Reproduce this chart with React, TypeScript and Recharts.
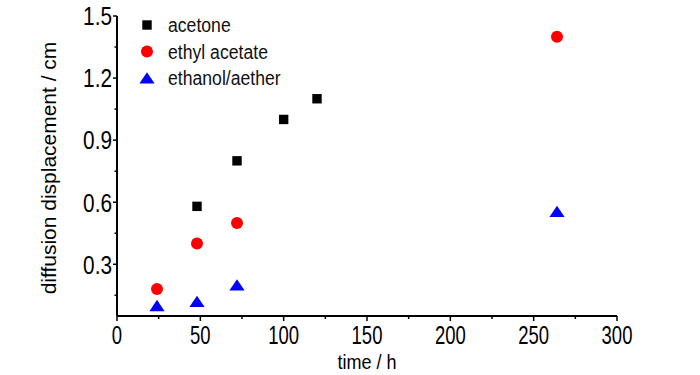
import React from "react";
import { ScatterChart, Scatter, XAxis, YAxis, Legend } from "recharts";

// time (h) and displacement (cm) per solvent
const acetoneTime = [48, 72, 100, 120];
const acetoneDisp = [0.58, 0.8, 1.0, 1.1];
const ethylTime = [24, 48, 72, 264];
const ethylDisp = [0.18, 0.4, 0.5, 1.4];
const etherTime = [24, 48, 72, 264];
const etherDisp = [0.1, 0.12, 0.2, 0.555];

const seriesNames = ["acetone", "ethyl acetate", "ethanol/aether"];

const xTicks = [0, 25, 50, 75, 100, 125, 150, 175, 200, 225, 250, 275, 300];
const yTicks = [0.15, 0.3, 0.45, 0.6, 0.75, 0.9, 1.05, 1.2, 1.35, 1.5];

const FONT = '"Liberation Sans", Arial, sans-serif';

const toPoints = (xs: number[], ys: number[]) =>
  xs.map((x, i) => ({ time: x, disp: ys[i] }));

const acetone = toPoints(acetoneTime, acetoneDisp);
const ethyl = toPoints(ethylTime, ethylDisp);
const ether = toPoints(etherTime, etherDisp);

const Square = ({ cx, cy }: any) => (
  <rect x={cx - 4.7} y={cy - 4.7} width={9.4} height={9.4} fill="#000" />
);
const Dot = ({ cx, cy }: any) => <circle cx={cx} cy={cy} r={6} fill="#ff0000" />;
const Tri = ({ cx, cy }: any) => (
  <polygon
    points={`${cx},${cy - 5.8} ${cx + 7.6},${cy + 5.5} ${cx - 7.6},${cy + 5.5}`}
    fill="#0000ff"
  />
);

const XTick = ({ x, y, payload }: any) => {
  const v = payload.value;
  const major = v % 50 === 0;
  return (
    <g>
      <line x1={x} x2={x} y1={y} y2={y + (major ? 5 : 3)} stroke="#000" strokeWidth={1.5} />
      {major && (
        <text
          transform={`translate(${x} ${y + 28}) scale(0.74 1)`}
          textAnchor="middle"
          fontSize={25}
          fontFamily={FONT}
          fill="#000"
        >
          {v}
        </text>
      )}
    </g>
  );
};

const YTick = ({ x, y, payload }: any) => {
  const v = payload.value;
  const major = Math.round(v * 100) % 30 === 0;
  return (
    <g>
      <line x1={x - (major ? 4 : 2.5)} x2={x} y1={y} y2={y} stroke="#000" strokeWidth={1.5} />
      {major && (
        <text
          transform={`translate(${x - 5} ${y + 9.3}) scale(0.8 1)`}
          textAnchor="end"
          fontSize={26}
          fontFamily={FONT}
          fill="#000"
        >
          {v.toFixed(1)}
        </text>
      )}
    </g>
  );
};

const legendShapes = [Square, Dot, Tri];

const LegendBox = () => (
  <svg width={240} height={90}>
    {seriesNames.map((name, i) => {
      const Shape = legendShapes[i];
      const cy = 13 + i * 26.5;
      return (
        <g key={name}>
          <Shape cx={17} cy={cy} />
          <text
            transform={`translate(38 ${cy + 7.3}) scale(0.84 1)`}
            fontSize={21}
            fontFamily={FONT}
            fill="#111"
          >
            {name}
          </text>
        </g>
      );
    })}
  </svg>
);

export default function App() {
  return (
    <div style={{ position: "absolute", left: 0, top: 0, background: "#fff" }}>
      <ScatterChart
        width={700}
        height={375}
        margin={{ top: 16, right: 83, bottom: 0, left: 0 }}
      >
        <XAxis
          type="number"
          dataKey="time"
          domain={[0, 300]}
          ticks={xTicks}
          interval={0}
          height={59}
          tickSize={0}
          tickMargin={0}
          tick={<XTick />}
          axisLine={{ stroke: "#000", strokeWidth: 2 }}
          label={{
            content: ({ viewBox }: any) => (
              <text
                transform={`translate(${viewBox.x + viewBox.width / 2} ${viewBox.y + 53}) scale(0.86 1)`}
                textAnchor="middle"
                fontSize={21}
                fontFamily={FONT}
                fill="#000"
              >
                time / h
              </text>
            ),
          }}
        />
        <YAxis
          type="number"
          dataKey="disp"
          domain={[0.05, 1.5]}
          ticks={yTicks}
          interval={0}
          width={117}
          tickSize={0}
          tickMargin={0}
          tick={<YTick />}
          axisLine={{ stroke: "#000", strokeWidth: 2 }}
          label={{
            content: ({ viewBox }: any) => (
              <text
                transform={`translate(49 ${viewBox.y + viewBox.height / 2 + 2}) scale(0.92 1) rotate(-90)`}
                textAnchor="middle"
                dominantBaseline="central"
                fontSize={21}
                fontFamily={FONT}
                fill="#000"
              >
                diffusion displacement / cm
              </text>
            ),
          }}
        />
        <Legend
          layout="vertical"
          align="center"
          verticalAlign="middle"
          content={() => <LegendBox />}
          wrapperStyle={{ left: 130, top: 12, width: 240, height: 90 }}
        />
        <Scatter name={seriesNames[0]} data={acetone} shape={<Square />} isAnimationActive={false} />
        <Scatter name={seriesNames[1]} data={ethyl} shape={<Dot />} isAnimationActive={false} />
        <Scatter name={seriesNames[2]} data={ether} shape={<Tri />} isAnimationActive={false} />
      </ScatterChart>
    </div>
  );
}
